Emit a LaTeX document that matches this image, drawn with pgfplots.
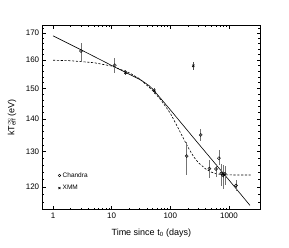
\documentclass[border=0pt]{standalone}
\usepackage{pgfplots}
\pgfplotsset{compat=1.18}
\usepackage{pgfplotstable}
\usepackage{fontspec}
\setmainfont{Liberation Sans}

\pgfplotstableread{
t T ep em
3.0 163.3 3.1 3.9
11.3 158.1 2.5 2.8
190 128.7 4.1 5.3
329 135.0 1.9 1.9
465 125.1 2.5 2.6
600 125.0 1.5 2.2
675 128.1 2.4 1.9
740 123.8 2.5 3.5
790 123.2 3.0 3.7
850 123.6 2.2 3.0
1316 120.4 1.6 1.4
}\chandra

\pgfplotstableread{
t T ep em
17.2 155.5 1.0 1.0
53.3 149.2 1.0 1.0
246 157.9 1.3 1.5
810 123.4 0.8 0.8
}\xmm

\pgfplotstableread{
t T
1 168.96
3 163.7
10 158.0
20 154.9
30 153.1
36 152.1
43 151.0
50 149.8
100 142.9
300 132.4
1000 121.9
2280 115.1
}\bpl

\pgfplotstableread{
t T
1 159.9
2 159.7
5 159.0
10 157.8
20 155.4
30 153.3
50 149.3
70 146.0
100 141.8
130 137.8
160 134.6
200 131.3
250 128.5
300 126.8
400 125.0
500 124.1
600 123.66
800 123.38
1000 123.32
2340 123.3
}\expd

\begin{document}
\begin{tikzpicture}
\useasboundingbox (-42.7pt,-38.7pt) rectangle (246.3pt,209.3pt);
\begin{axis}[
  at={(0,0)}, anchor=south west, scale only axis,
  width=217.3pt, height=183.6pt,
  xmode=log, ymode=log,
  xmin=0.667, xmax=3376, ymin=114.1, ymax=172.9,
  xtick={1,10,100,1000}, xticklabels={1,10,100,1000},
  ytick={120,130,140,150,160,170}, yticklabels={120,130,140,150,160,170},
  minor ytick={116,118,122,124,126,128,132,134,136,138,142,144,146,148,152,154,156,158,162,164,166,168,172},
  tick align=inside,
  major tick length=3pt, minor tick length=1.5pt,
  axis line style={line width=0.5pt},
  every tick/.style={black, line width=0.4pt},
  tick label style={font=\fontsize{8}{9}\selectfont},
  label style={font=\fontsize{9}{10}\selectfont},
  xlabel={Time since t\textsubscript{0} (days)},
  ylabel={kT\rlap{\textsuperscript{$\infty$}}\textsubscript{eff} (eV)},
  xlabel style={at={(axis description cs:0.5,0)}, anchor=center, yshift=-23.7pt},
  ylabel style={at={(axis description cs:0,0.5)}, anchor=center, xshift=0pt, yshift=30.7pt},
  legend style={draw=none, fill=none, at={(axis description cs:0.07,0.15)}, anchor=west,
    font=\fontsize{6.5}{7}\selectfont, row sep=2.5pt, inner sep=0pt},
  legend cell align=left,
  legend image code/.code={\draw[#1] plot coordinates {(0.12cm,0cm)};},
]
\addplot[black, line width=0.6pt, forget plot] table[x=t,y=T] {\bpl};
\addplot[black, line width=0.6pt, dash pattern=on 2.2pt off 1.6pt, forget plot] table[x=t,y=T] {\expd};
\addplot[forget plot, only marks, mark=o, mark size=1.5pt, mark options={black, line width=0.5pt, fill=white},
  error bars/.cd, y dir=both, y explicit, error mark=none,
  error bar style={black!55, line width=0.7pt}]
  table[x=t, y=T, y error plus=ep, y error minus=em] {\chandra};
\addplot[forget plot, only marks, mark=x, mark size=1.6pt, mark options={black, line width=0.7pt},
  error bars/.cd, y dir=both, y explicit, error mark=none,
  error bar style={black!70, line width=0.7pt}]
  table[x=t, y=T, y error plus=ep, y error minus=em] {\xmm};
\addlegendimage{only marks, mark=o, mark size=1.3pt, mark options={black, line width=0.5pt}}
\addlegendentry{Chandra}
\addlegendimage{only marks, mark=x, mark size=1.4pt, mark options={black, line width=0.7pt}}
\addlegendentry{XMM}
\end{axis}
\end{tikzpicture}
\end{document}
